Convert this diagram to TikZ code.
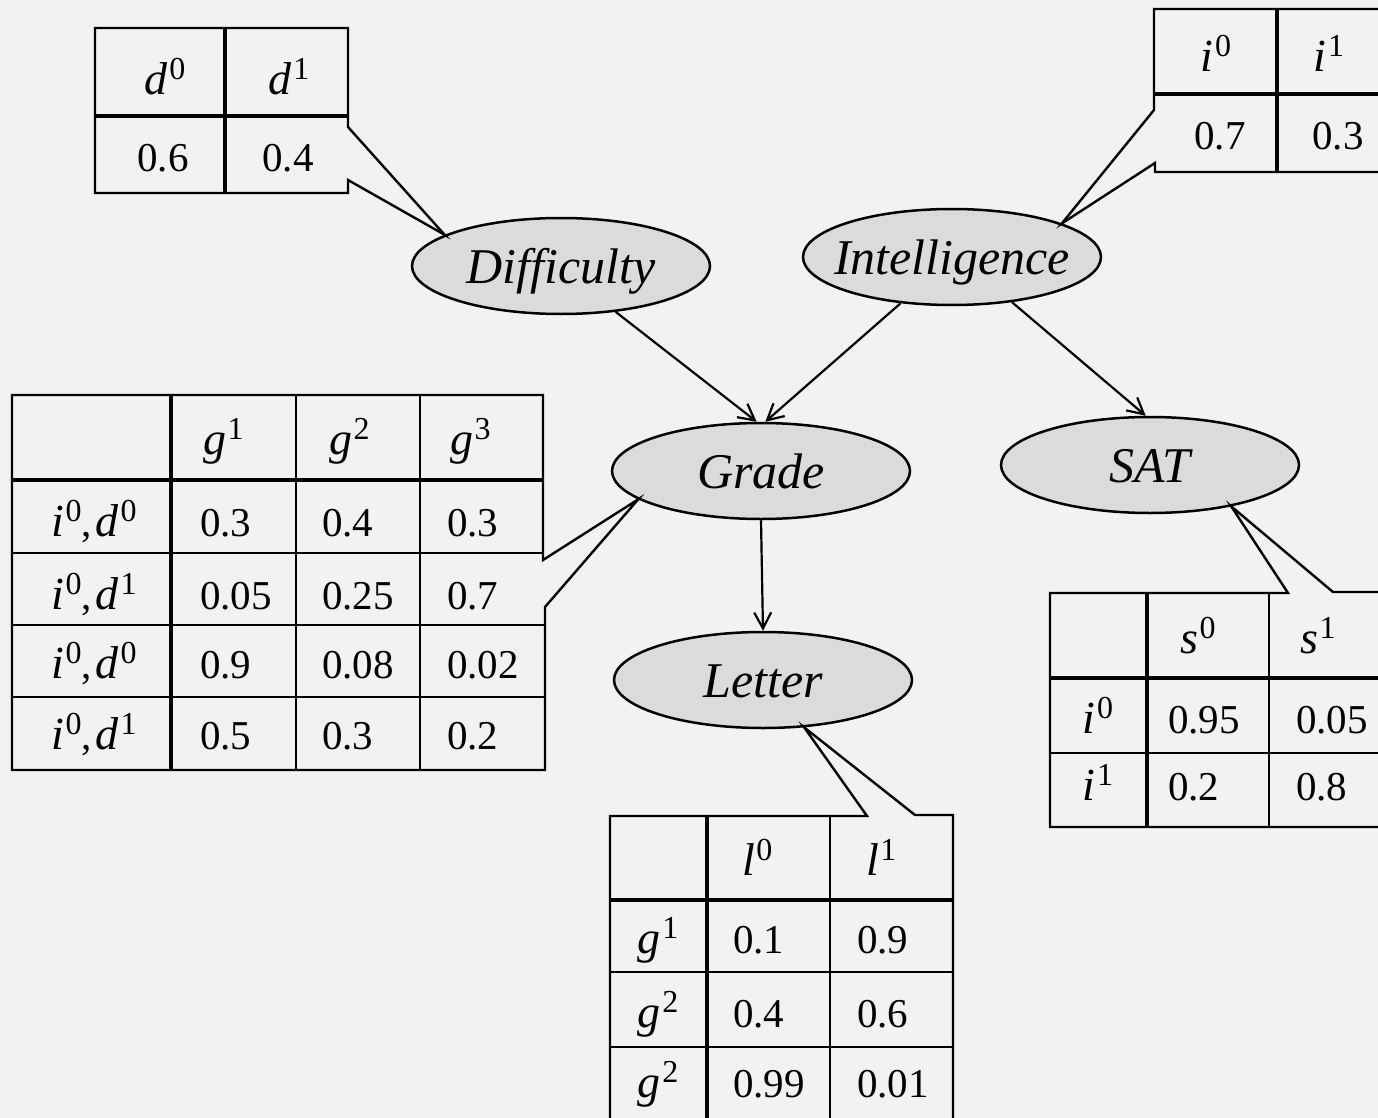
\documentclass[tikz,border=0pt]{standalone}
\usepackage{fontspec}
\setmainfont{Liberation Serif}
\usetikzlibrary{arrows.meta,shapes.geometric}
\newcommand\cvar[2]{{\fontsize{46}{50}\selectfont\textit{#1}}\kern1.5pt\raisebox{15pt}{\fontsize{32}{32}\selectfont #2}}
\newcommand\rlab[2]{\cvar{i}{#1},\kern4pt\cvar{d}{#2}}
\begin{document}
\begin{tikzpicture}[x=1pt,y=-1pt,
  var/.style={ellipse, draw, line width=2.5pt, fill=black!14, minimum width=298pt, minimum height=96pt,
    inner xsep=-100pt, inner ysep=-30pt, text height=34pt, text depth=0pt,
    font=\fontsize{50}{55}\selectfont\itshape},
  cell/.style={anchor=base, inner sep=0pt, font=\fontsize{41}{46}\selectfont},
  lcell/.style={cell, anchor=base west},
  frame/.style={line width=2.4pt, line join=miter},
  thin/.style={line width=1.8pt},
  heavy/.style={line width=4.5pt},
  arr/.style={line width=2.2pt, -{Straight Barb[length=16pt,width=17pt]}}
]
\fill[black!5] (0,0) rectangle (1378,1118);
\useasboundingbox (0,0) rectangle (1378,1118);

% variables
\node[var] (diff) at (561,266) {Difficulty};
\node[var] (intel) at (952,257) {Intelligence};
\node[var] (grade) at (761,471) {Grade};
\node[var] (sat) at (1150,465) {SAT};
\node[var] (letter) at (763,680) {Letter};

% arcs
\draw[arr] (diff.-40) -- (grade.95);
\draw[arr] (intel.222) -- (grade.85);
\draw[arr] (intel.-37) -- (sat.95);
\draw[arr] (grade.south) -- (letter.north);

% Difficulty table
\draw[frame] (95,28) -- (348,28) -- (348,127) -- (diff.165) -- (348,180) -- (348,193) -- (95,193) -- cycle;
\draw[heavy] (95,116) -- (348,116);
\draw[heavy] (225,28) -- (225,193);
\node[cell] (dh0) at (165,95) {\cvar{d}{0}};
\node[cell] (dh1) at (289,95) {\cvar{d}{1}};
\node[cell] (dp0) at (163,172) {0.6};
\node[cell] (dp1) at (288,172) {0.4};

% Intelligence table
\draw[frame] (1400,9) -- (1154,9) -- (1154,110) -- (intel.17) -- (1155,163) -- (1155,172) -- (1400,172);
\draw[heavy] (1154,94) -- (1400,94);
\draw[heavy] (1277,9) -- (1277,172);
\node[cell] (ih0) at (1216,72) {\cvar{i}{0}};
\node[cell] (ih1) at (1329,72) {\cvar{i}{1}};
\node[cell] (ip0) at (1220,150) {0.7};
\node[cell] (ip1) at (1338,150) {0.3};

% Grade table
\draw[frame] (12,395) -- (543,395) -- (543,560) -- (grade.193) -- (545,607) -- (545,770) -- (12,770) -- cycle;
\draw[heavy] (12,480) -- (543,480);
\draw[heavy] (171,395) -- (171,770);
\draw[thin] (296,395) -- (296,770) (420,395) -- (420,770);
\draw[thin] (12,553) -- (543,553) (12,625) -- (545,625) (12,697) -- (545,697);
\node[lcell] (gh1) at (203,454) {\cvar{g}{1}};
\node[lcell] (gh2) at (329,454) {\cvar{g}{2}};
\node[lcell] (gh3) at (450,454) {\cvar{g}{3}};
\node[cell] (gr1) at (94,536) {\rlab{0}{0}};
\node[cell] (gr2) at (94,609) {\rlab{0}{1}};
\node[cell] (gr3) at (94,678) {\rlab{0}{0}};
\node[cell] (gr4) at (94,749) {\rlab{0}{1}};
\node[lcell] (g11) at (200,536) {0.3};
\node[lcell] (g12) at (322,536) {0.4};
\node[lcell] (g13) at (447,536) {0.3};
\node[lcell] (g21) at (200,609) {0.05};
\node[lcell] (g22) at (322,609) {0.25};
\node[lcell] (g23) at (447,609) {0.7};
\node[lcell] (g31) at (200,678) {0.9};
\node[lcell] (g32) at (322,678) {0.08};
\node[lcell] (g33) at (447,678) {0.02};
\node[lcell] (g41) at (200,749) {0.5};
\node[lcell] (g42) at (322,749) {0.3};
\node[lcell] (g43) at (447,749) {0.2};

% SAT table
\draw[frame] (1400,592) -- (1333,592) -- (sat.-27) -- (1288,593) -- (1050,593) -- (1050,827) -- (1400,827);
\draw[heavy] (1050,678) -- (1400,678);
\draw[heavy] (1147,593) -- (1147,827);
\draw[thin] (1269,593) -- (1269,827) (1050,753) -- (1400,753);
\node[lcell] (sh0) at (1180,653) {\cvar{s}{0}};
\node[lcell] (sh1) at (1300,653) {\cvar{s}{1}};
\node[cell] (sr1) at (1098,733) {\cvar{i}{0}};
\node[cell] (sr2) at (1098,800) {\cvar{i}{1}};
\node[lcell] (s11) at (1168,733) {0.95};
\node[lcell] (s12) at (1296,733) {0.05};
\node[lcell] (s21) at (1168,800) {0.2};
\node[lcell] (s22) at (1296,800) {0.8};

% Letter table
\draw[frame] (610,1130) -- (610,816) -- (867,816) -- (letter.-49) -- (915,815) -- (953,815) -- (953,1130);
\draw[heavy] (610,900) -- (953,900);
\draw[heavy] (707,816) -- (707,1130);
\draw[thin] (830,815) -- (830,1130) (610,972) -- (953,972) (610,1047) -- (953,1047);
\node[lcell] (lh0) at (742,875) {\cvar{l}{0}};
\node[lcell] (lh1) at (866,875) {\cvar{l}{1}};
\node[cell] (lr1) at (658,953) {\cvar{g}{1}};
\node[cell] (lr2) at (658,1027) {\cvar{g}{2}};
\node[cell] (lr3) at (658,1097) {\cvar{g}{2}};
\node[lcell] (l11) at (733,953) {0.1};
\node[lcell] (l12) at (857,953) {0.9};
\node[lcell] (l21) at (733,1027) {0.4};
\node[lcell] (l22) at (857,1027) {0.6};
\node[lcell] (l31) at (733,1097) {0.99};
\node[lcell] (l32) at (857,1097) {0.01};
\end{tikzpicture}
\end{document}
